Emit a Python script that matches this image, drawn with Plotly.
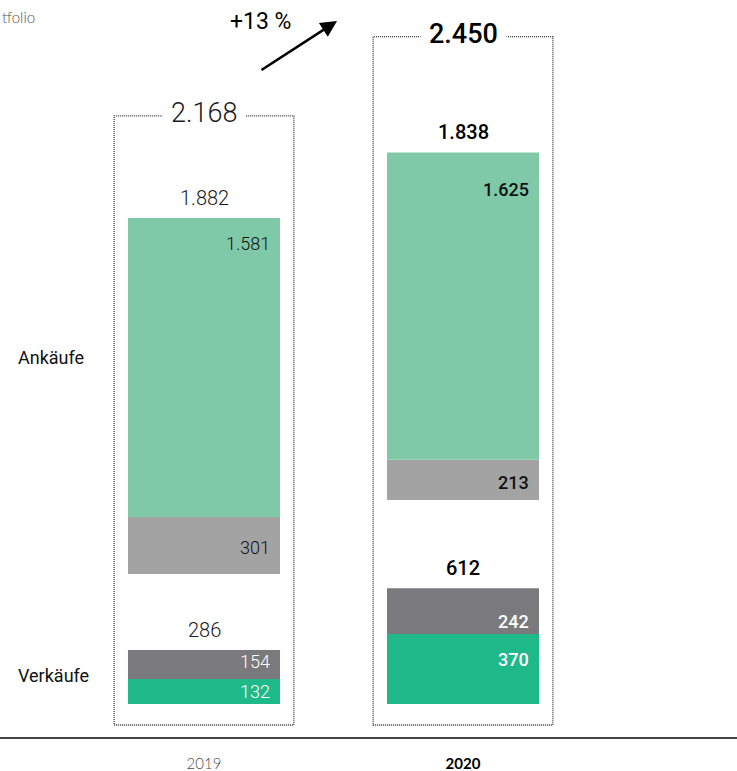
import plotly.graph_objects as go

# ---- data -------------------------------------------------------------
years = ["2019", "2020"]
ankauf_total = [1882, 1838]          # purchases, total
ankauf_main = [1581, 1625]           # purchases, green part
ankauf_other = [301, 213]            # purchases, grey part
verkauf_total = [286, 612]           # sales, total
verkauf_other = [154, 242]           # sales, grey part
verkauf_main = [132, 370]            # sales, green part
volume_total = [2168, 2450]          # overall transaction volume
growth_label = "+13 %"
row_labels = ["Ankäufe", "Verkäufe"]

# ---- layout constants -------------------------------------------------
W, H = 737, 771
BAR_W = 0.587
BOX_HALF = 0.347
ANK_BASE = [688, 1079]               # where the purchase stack starts (bar axis units)
C_ANK = "#80C9A8"
C_ANK_GREY = "#A3A3A3"
C_VK_GREY = "#7A797B"
C_VK = "#1FB889"
NUM_FONT = "Roboto, sans-serif"
TXT = ["#1a1a1a", "#000000"]
WEIGHT = [300, 500]


def fmt(v):
    return f"{v:,}".replace(",", ".")


fig = go.Figure()

# sales stack: green at the bottom, grey on top
fig.add_trace(go.Bar(x=years, y=verkauf_main, base=[0, 0], width=BAR_W,
                     marker=dict(color=C_VK, line_width=0), hoverinfo="skip"))
fig.add_trace(go.Bar(x=years, y=verkauf_other, base=verkauf_main, width=BAR_W,
                     marker=dict(color=C_VK_GREY, line_width=0), hoverinfo="skip"))
# purchase stack: grey at the bottom, green on top
fig.add_trace(go.Bar(x=years, y=ankauf_other, base=ANK_BASE, width=BAR_W,
                     marker=dict(color=C_ANK_GREY, line_width=0), hoverinfo="skip"))
fig.add_trace(go.Bar(x=years, y=ankauf_main,
                     base=[b + o for b, o in zip(ANK_BASE, ankauf_other)], width=BAR_W,
                     marker=dict(color=C_ANK, line_width=0), hoverinfo="skip"))
# anchor trace for the secondary axis that scales the dotted total boxes
fig.add_trace(go.Scatter(x=years, y=volume_total, yaxis="y2", mode="markers",
                         marker=dict(opacity=0), hoverinfo="skip"))

ann = []
shapes = []
for i, yr in enumerate(years):
    col = TXT[i]
    wt = WEIGHT[i]

    # dotted frame whose height follows the overall volume
    shapes.append(dict(type="rect", xref="x", yref="y2",
                       x0=i - BOX_HALF, x1=i + BOX_HALF, y0=0, y1=volume_total[i],
                       line=dict(color="#3a3a3a", width=1.3, dash="1px,1px"),
                       layer="below"))
    ann.append(dict(x=i, y=volume_total[i], xref="x", yref="y2", yshift=3,
                    text=fmt(volume_total[i]), showarrow=False,
                    font=dict(family=NUM_FONT, size=27, color=col, weight=wt),
                    bgcolor="white", borderpad=8, yanchor="middle"))

    # totals above the stacks
    ank_top = ANK_BASE[i] + ankauf_total[i]
    ann.append(dict(x=i, y=ank_top, xref="x", yref="y", yshift=20,
                    text=fmt(ankauf_total[i]), showarrow=False,
                    font=dict(family=NUM_FONT, size=20, color=col, weight=wt),
                    yanchor="middle"))
    ann.append(dict(x=i, y=verkauf_total[i], xref="x", yref="y", yshift=20,
                    text=fmt(verkauf_total[i]), showarrow=False,
                    font=dict(family=NUM_FONT, size=20, color=col, weight=wt),
                    yanchor="middle"))

    # segment values, right aligned inside the bars
    segs = [
        (ank_top, ankauf_main[i], [25, 37][i], "#111111"),
        (ANK_BASE[i] + ankauf_other[i], ankauf_other[i], [31, 23][i], "#111111"),
        (verkauf_total[i], verkauf_other[i], [12, 33][i], "white"),
        (verkauf_main[i], verkauf_main[i], [12, 25][i], "white"),
    ]
    for top, val, off, tc in segs:
        ann.append(dict(x=i + BAR_W / 2, y=top, xref="x", yref="y",
                        xshift=-8, yshift=-off, xanchor="right", yanchor="middle",
                        text=fmt(val), showarrow=False,
                        font=dict(family=NUM_FONT, size=18, color=tc, weight=wt)))

# row captions
ann.append(dict(x=16 / W, y=(737 - 357) / 737, xref="paper", yref="paper",
                text=row_labels[0], showarrow=False, xanchor="left", yanchor="middle",
                font=dict(family=NUM_FONT, size=18, color="#111111")))
ann.append(dict(x=16 / W, y=(737 - 675) / 737, xref="paper", yref="paper",
                text=row_labels[1], showarrow=False, xanchor="left", yanchor="middle",
                font=dict(family=NUM_FONT, size=18, color="#111111")))

# growth arrow and label
ann.append(dict(x=337 / W, y=(737 - 21) / 737, xref="paper", yref="paper",
                ax=-77, ay=50, showarrow=True, arrowhead=2, arrowsize=1.25,
                arrowwidth=2.6, arrowcolor="#000000", text=""))
ann.append(dict(x=260 / W, y=(737 - 22) / 737, xref="paper", yref="paper",
                text=growth_label, showarrow=False, xanchor="center", yanchor="middle",
                font=dict(family=NUM_FONT, size=23, color="#000000")))

# title fragment at the top left edge
ann.append(dict(x=0, y=(737 - 17) / 737, xref="paper", yref="paper",
                text="tfolio", showarrow=False, xanchor="left", yanchor="middle",
                font=dict(family="Lato, sans-serif", size=15, color="#555555", weight=300)))

fig.update_layout(
    width=W, height=H,
    margin=dict(l=0, r=0, t=0, b=34),
    paper_bgcolor="white", plot_bgcolor="white",
    barmode="overlay", showlegend=False,
    annotations=ann, shapes=shapes,
    xaxis=dict(type="category", range=[-204 / 259, (W - 204) / 259],
               tickvals=years,
               ticktext=["<span style='color:#4a4a4a'>2019</span>", "<b>2020</b>"],
               tickfont=dict(family="Lato, sans-serif", size=15, color="#000000",
                             weight=300),
               ticks="outside", ticklen=12, tickcolor="rgba(0,0,0,0)",
               showline=True, linecolor="#444444", linewidth=2,
               showgrid=False, zeroline=False, fixedrange=True),
    yaxis=dict(range=[-174.5, 3723], visible=False, showgrid=False,
               zeroline=False, fixedrange=True),
    yaxis2=dict(range=[-42.7, 2580.1], overlaying="y", visible=False,
                showgrid=False, zeroline=False, fixedrange=True),
)

fig.write_html("out.html")
